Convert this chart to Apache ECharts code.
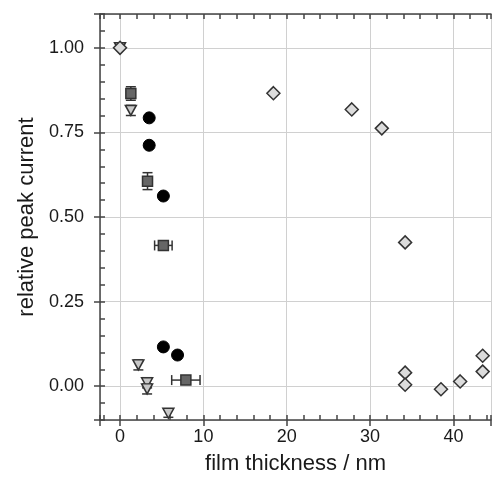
<!DOCTYPE html>
<html>
<head>
<meta charset="utf-8">
<script src="https://cdn.jsdelivr.net/npm/echarts@6/dist/echarts.min.js"></script>
<style>
    html, body { margin: 0; padding: 0; background: #fff; }
    .chart { width: 494px; height: 480px; }
</style>
</head>
<body>
<div class="chart"></div>
<script>
// data
var diamondX = [0, 18.4, 27.8, 31.4, 34.2, 34.2, 34.2, 38.5, 40.8, 43.5, 43.5];
var diamondY = [1.00, 0.866, 0.818, 0.762, 0.425, 0.040, 0.004, -0.009, 0.014, 0.090, 0.043];
var circleX = [3.5, 3.5, 5.2, 5.2, 6.9];
var circleY = [0.793, 0.712, 0.562, 0.116, 0.092];
var squareX = [1.3, 3.3, 5.2, 7.9];
var squareY = [0.865, 0.606, 0.416, 0.018];
var squareXErr = [0, 0, 1.05, 1.7];
var squareYErr = [0.02, 0.025, 0, 0];
var triangleX = [0, 1.3, 2.2, 3.25, 3.25, 5.8];
var triangleY = [1.00, 0.815, 0.063, 0.010, -0.008, -0.08];
var triangleYErr = [0, 0.015, 0.015, 0.015, 0.015, 0.012];
var xTicks = [0, 10, 20, 30, 40];
var yTicks = [0, 0.25, 0.5, 0.75, 1];

(function () {
    var font = 'Liberation Sans, Arial, sans-serif';
    var axisColor = '#444';
    var textColor = '#1a1a1a';

    // zip two arrays into points
    var pts = function (xs, ys) {
        return xs.map(function (x, i) { return [x, ys[i]]; });
    };

    // error bars: [x, y, xerr, yerr]
    var errData = [];
    squareX.forEach(function (x, i) {
        errData.push([x, squareY[i], squareXErr[i], squareYErr[i]]);
    });
    triangleX.forEach(function (x, i) {
        if (triangleYErr[i] > 0) errData.push([x, triangleY[i], 0, triangleYErr[i]]);
    });

    var renderErr = function (params, api) {
        var x = api.value(0), y = api.value(1), ex = api.value(2), ey = api.value(3);
        var style = { stroke: '#333', lineWidth: 1.5 };
        var cap = 5;
        var kids = [];
        if (ex > 0) {
            var l = api.coord([x - ex, y]), r = api.coord([x + ex, y]);
            kids.push({ type: 'line', shape: { x1: l[0], y1: l[1], x2: r[0], y2: r[1] }, style: style });
            kids.push({ type: 'line', shape: { x1: l[0], y1: l[1] - cap, x2: l[0], y2: l[1] + cap }, style: style });
            kids.push({ type: 'line', shape: { x1: r[0], y1: r[1] - cap, x2: r[0], y2: r[1] + cap }, style: style });
        }
        if (ey > 0) {
            var t = api.coord([x, y + ey]), b = api.coord([x, y - ey]);
            kids.push({ type: 'line', shape: { x1: t[0], y1: t[1], x2: b[0], y2: b[1] }, style: style });
            kids.push({ type: 'line', shape: { x1: t[0] - cap, y1: t[1], x2: t[0] + cap, y2: t[1] }, style: style });
            kids.push({ type: 'line', shape: { x1: b[0] - cap, y1: b[1], x2: b[0] + cap, y2: b[1] }, style: style });
        }
        return { type: 'group', children: kids };
    };

    // only keep labels that sit on the listed ticks
    var onTick = function (list, digits) {
        return function (v) {
            for (var i = 0; i < list.length; i++) {
                if (Math.abs(v - list[i]) < 1e-6) return digits ? v.toFixed(digits) : String(v);
            }
            return '';
        };
    };

    var xMin = -2.4, xMax = 44.5, yMin = -0.1, yMax = 1.1;

    var option = {
        animation: false,
        grid: { left: 100, right: 0, top: 14, bottom: 60 },
        xAxis: [
            {
                // main bottom axis: labels, grid, outer ticks
                type: 'value', position: 'bottom', min: xMin, max: xMax,
                minInterval: 10, maxInterval: 10,
                name: 'film thickness / nm', nameLocation: 'middle', nameGap: 33,
                nameTextStyle: { fontFamily: font, fontSize: 22, color: textColor },
                axisLine: { show: true, onZero: false, lineStyle: { color: axisColor, width: 1.5 } },
                axisTick: { show: true, inside: false, length: 6, lineStyle: { color: axisColor, width: 1.5 } },
                axisLabel: { fontFamily: font, fontSize: 18, color: textColor, margin: 8, formatter: onTick(xTicks) },
                splitLine: { show: true, lineStyle: { color: '#d0d0d0', width: 1 } }
            },
            {
                // bottom minor ticks
                type: 'value', position: 'bottom', min: xMin, max: xMax,
                minInterval: 2, maxInterval: 2,
                axisLine: { show: false, onZero: false },
                axisTick: { show: true, inside: true, length: 5, lineStyle: { color: axisColor, width: 1.5 } },
                axisLabel: { show: false },
                splitLine: { show: false }
            },
            {
                // top frame with ticks
                type: 'value', position: 'top', min: xMin, max: xMax,
                minInterval: 2, maxInterval: 2,
                axisLine: { show: true, onZero: false, lineStyle: { color: axisColor, width: 1.5 } },
                axisTick: { show: true, inside: true, length: 5, lineStyle: { color: axisColor, width: 1.5 } },
                axisLabel: { show: false },
                splitLine: { show: false }
            }
        ],
        yAxis: [
            {
                type: 'value', position: 'left', min: yMin, max: yMax,
                minInterval: 0.25, maxInterval: 0.25,
                name: 'relative peak current', nameLocation: 'middle', nameGap: 62, nameRotate: 90,
                nameTextStyle: { fontFamily: font, fontSize: 22, color: textColor },
                axisLine: { show: true, onZero: false, lineStyle: { color: axisColor, width: 1.5 } },
                axisTick: { show: true, inside: false, length: 6, lineStyle: { color: axisColor, width: 1.5 } },
                axisLabel: { fontFamily: font, fontSize: 18, color: textColor, margin: 16, formatter: onTick(yTicks, 2) },
                splitLine: { show: true, lineStyle: { color: '#d0d0d0', width: 1 } }
            },
            {
                // left minor ticks
                type: 'value', position: 'left', min: yMin, max: yMax,
                minInterval: 0.05, maxInterval: 0.05,
                axisLine: { show: false, onZero: false },
                axisTick: { show: true, inside: true, length: 5, lineStyle: { color: axisColor, width: 1.5 } },
                axisLabel: { show: false },
                splitLine: { show: false }
            }
        ],
        series: [
            {
                name: 'err', type: 'custom', renderItem: renderErr,
                encode: { x: 0, y: 1 }, data: errData, z: 2
            },
            {
                name: 'triangle', type: 'scatter', data: pts(triangleX, triangleY),
                symbol: 'triangle', symbolRotate: 180, symbolSize: [11, 10], z: 3,
                itemStyle: { color: '#c8c8c8', borderColor: '#333', borderWidth: 1.5, opacity: 1 }
            },
            {
                name: 'square', type: 'scatter', data: pts(squareX, squareY),
                symbol: 'rect', symbolSize: 10, z: 4,
                itemStyle: { color: '#666', borderColor: '#333', borderWidth: 1.5, opacity: 1 }
            },
            {
                name: 'circle', type: 'scatter', data: pts(circleX, circleY),
                symbol: 'circle', symbolSize: 12, z: 5,
                itemStyle: { color: '#000', borderColor: '#000', borderWidth: 1, opacity: 1 }
            },
            {
                name: 'diamond', type: 'scatter', data: pts(diamondX, diamondY),
                symbol: 'diamond', symbolSize: 13, z: 6,
                itemStyle: { color: '#dcdcdc', borderColor: '#333', borderWidth: 1.5, opacity: 1 }
            }
        ]
    };

    var myechart = echarts.init(document.querySelector('.chart'));
    myechart.setOption(option);
})();
</script>
</body>
</html>
